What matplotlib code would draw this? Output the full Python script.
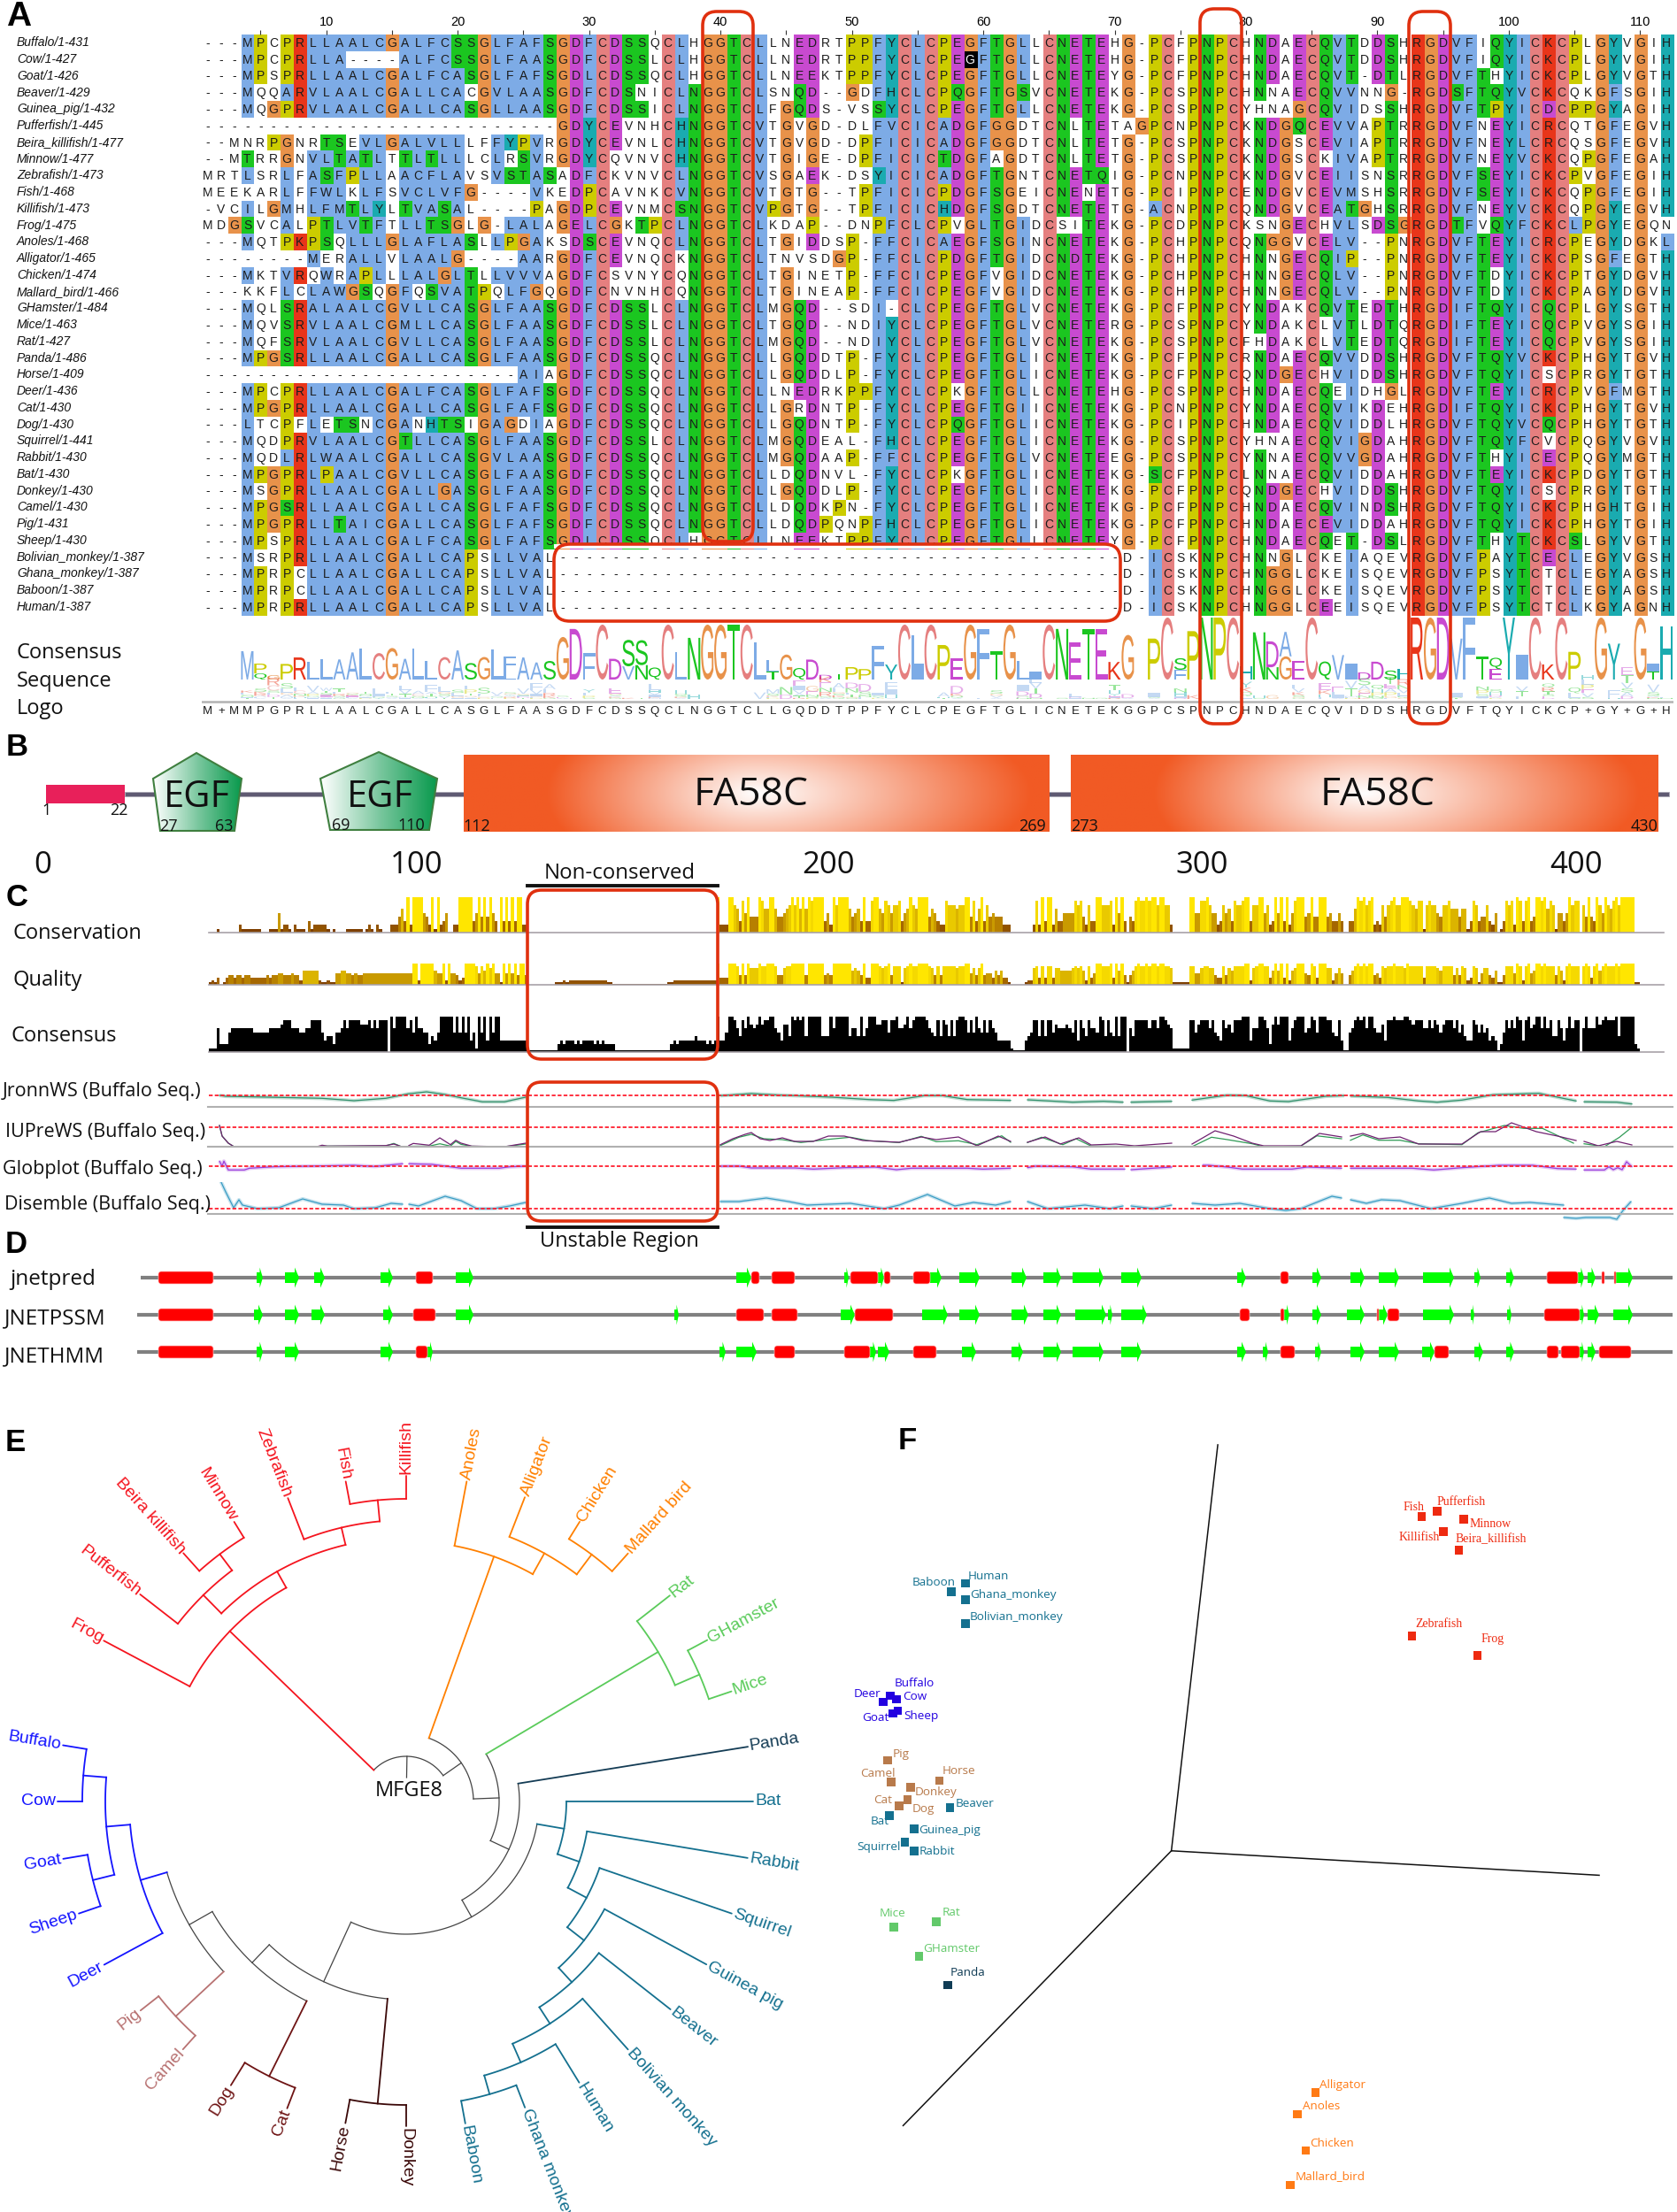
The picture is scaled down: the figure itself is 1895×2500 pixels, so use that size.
import numpy as np
import matplotlib
matplotlib.use("Agg")
import matplotlib.pyplot as plt
from matplotlib.colors import LinearSegmentedColormap, to_rgb
from matplotlib.patches import FancyBboxPatch, Polygon, Rectangle, PathPatch
from matplotlib.textpath import TextPath
from matplotlib.font_manager import FontProperties
from matplotlib.transforms import Affine2D

# ---------------------------------------------------------------- data: panel A
species = ["Buffalo/1-431","Cow/1-427","Goat/1-426","Beaver/1-429","Guinea_pig/1-432","Pufferfish/1-445",
 "Beira_killifish/1-477","Minnow/1-477","Zebrafish/1-473","Fish/1-468","Killifish/1-473","Frog/1-475",
 "Anoles/1-468","Alligator/1-465","Chicken/1-474","Mallard_bird/1-466","GHamster/1-484","Mice/1-463",
 "Rat/1-427","Panda/1-486","Horse/1-409","Deer/1-436","Cat/1-430","Dog/1-430","Squirrel/1-441",
 "Rabbit/1-430","Bat/1-430","Donkey/1-430","Camel/1-430","Pig/1-431","Sheep/1-430",
 "Bolivian_monkey/1-387","Ghana_monkey/1-387","Baboon/1-387","Human/1-387"]
seq_left = [
"---MPCPRLLAALCGALFCSSGLFAFSGDFCDSSQCLHGGTCLLNEDRT",
"---MPCPRLLA----ALFCSSGLFAASGDFCDSSLCLHGGTCLLNEDRT",
"---MPSPRLLAALCGALFCASGLFAFSGDLCDSSQCLHGGTCLLNEEKT",
"---MQQARVLAALCGALLCACGVLAASGDFCDSNICLNGGTCLSNQD--",
"---MQGPRVLAALCGALLCASGLLAASGDFCDSSICLNGGTCLFGQDS-",
"---------------------------GDYCEVNHCHNGGTCVTGVGD-",
"--MNRPGNRTSEVLGALVLLLFFYPVRGDYCEVNLCHNGGTCVTGVGD-",
"--MTRRGNVLTATLTTLTLLLCLRSVRGDYCQVNVCHNGGTCVTGIGE-",
"MRTLSRLFASFPLLAACFLAVSVSTASADFCKVNVCLNGGTCVSGAEK-",
"MEEKARLFFWLKLFSVCLVFG----VKEDPCAVNKCVNGGTCVTGTG--",
"-VCILGMHLFMTLYLTVASAL----PAGDPCEVNMCSNGGTCVPGTG--",
"MDGSVCALPTLVTFTLLTSGLG-LALAGELCGKTPCLNGGTCLKDAP--",
"---MQTPKPSQLLLGLAFLASLLPGAKSDSCEVNQCLNGGTCLTGIDDS",
"--------MERALLVLAALG----AARGDFCEVNQCKNGGTCLTNVSDG",
"---MKTVRQWRAPLLLALGLTLLVVVAGDFCSVNYCQNGGTCLTGINET",
"---KKFLCLAWGSQGFQSVATPQLFGQGDFCNVNHCQNGGTCLTGINEA",
"---MQLSRALAALCGVLLCASGLFAASGDFCDSSLCLNGGTCLMGQD--",
"---MQVSRVLAALCGMLLCASGLFAASGDFCDSSLCLNGGTCLTGQD--",
"---MQFSRVLAALCGVLLCASGLFAASGDFCDSSLCLNGGTCLMGQD--",
"---MPGSRLLAALCGALLCASGLFAASGDFCDSSQCLNGGTCLLGQDDT",
"------------------------AIAGDFCDSSQCLNGGTCLLGQDDL",
"---MPCPRLLAALCGALFCASGLFAFSGDFCDSSQCLNGGTCLLNEDRK",
"---MPGPRLLAALCGALLCASGLFAFSGDFCDSSQCLNGGTCLLGRDNT",
"---LTCPFLETSNCGANHTSIGAGDIAGDFCDSSQCLNGGTCLLGQDNT",
"---MQDPRVLAALCGTLLCASGLFAASGDFCDSSLCLNGGTCLMGQDEA",
"---MQDLRLWAALCGALLCASGVLAASGDFCDSSQCLNGGTCLMGQDAA",
"---MPGPRLPAALCGVLLCASGLFAASGDFCDSSQCLNGGTCLLDQDNV",
"---MSGPRLLAALCGALLGASGLFAASGDFCDSSQCLNGGTCLLGQDDL",
"---MPGSRLLAALCGALLCASGLFAFSGDFCDSSQCLNGGTCLLDQDKP",
"---MPGPRLLTAICGALLCASGLFAFSGDFCDSSQCLNGGTCLLDQDPQ",
"---MPSPRLLAALCGALFCASGLFAFSGDLCDSSQCLHGGTCLLNEEKT",
"---MSRPRLLAALCGALLCAPSLLVAL----------------------",
"---MPRPCLLAALCGALLCAPSLLVAL----------------------",
"---MPRPCLLAALCGALLCAPSLLVAL----------------------",
"---MPRPRLLAALCGALLCAPSLLVAL----------------------"]
seq_right = [
"PPFYCLCPEGFTGLLCNETEHG-PCFPNPCHNDAECQVTDDSHRGDVFIQYICKCPLGYVGIH",
"PPFYCLCPEGFTGLLCNETEHG-PCFPNPCHNDAECQVTDDSHRGDVFIQYICKCPLGYVGIH",
"PPFYCLCPEGFTGLLCNETEYG-PCFPNPCHNDAECQVT-DTLRGDVFTHYICKCPLGYVGTH",
"GDFHCLCPQGFTGSVCNETEKG-PCSPNPCHNNAECQVVNNG-RGDSFTQYVCKCQKGFSGIH",
"VSSYCLCPEGFTGLLCNETEKG-PCSPNPCYHNAGCQVIDSSHRGDVFTPYICDCPPGYAGIH",
"DLFVCICADGFGGDTCNLTETAGPCNPNPCKNDGQCEVVAPTRRGDVFNEYICRCQTGFEGVH",
"DPFICICADGFGGDTCNLTETG-PCSPNPCKNDGSCEVIAPTRRGDVFNEYLCRCQSGFEGVH",
"DPFICICTDGFAGDTCNLTETG-PCSPNPCKNDGSCKIVAPTRRGDVFNEYVCKCQPGFEGAH",
"DSYICICADGFTGNTCNETQIG-PCNPNPCKNDGVCEIISNSRRGDVFSEYICKCPVGFEGIH",
"TPFICICPDGFSGEICNENETG-PCIPNPCENDGVCEVMSHSRRGDVFSEYICKCQPGFEGIH",
"TPFICICHDGFSGDTCNETETG-ACNPNPCQNDGVCEATGHSRRGDVFNEYVCKCQPGYEGVH",
"DNPFCLCPVGLTGIDCSITEKG-PCDPNPCKSNGECHVLSDSGRGDTFVQYFCKCLPGYEGQN",
"P-FFCICAEGFSGINCNETEKG-PCHPNPCQNGGVCELV--PNRGDVFTEYICRCPEGYDGKL",
"P-FFCLCPDGFTGIDCNDTEKG-PCHPNPCHNNGECQIP--PNRGDVFTEYICKCPSGFEGTH",
"P-FFCICPEGFVGIDCNETEKG-PCHPNPCHNNGECQLV--PNRGDVFTDYICKCPTGYDGVH",
"P-FFCICPEGFVGIDCNETEKG-PCHPNPCHNNGECQLV--PNRGDVFTDYICKCPAGYDGVH",
"SDI-CLCPEGFTGLVCNETEKG-PCFPNPCYNDAKCQVTEDTHRGDIFTQYICQCPLGYSGTH",
"NDIYCLCPEGFTGLVCNETERG-PCSPNPCYNDAKCLVTLDTQRGDIFTEYICQCPVGYSGIH",
"NDIYCLCPEGFTGLVCNETEKG-PCSPNPCFHDAKCLVTEDTQRGDIFTEYICQCPVGYSGIH",
"P-FYCLCPEGFTGLICNETEKG-PCFPNPCRNDAECQVVDDSHRGDVFTQYVCKCPHGYTGVH",
"P-FYCLCPEGFTGLICNETEKG-PCFPNPCQNDGECHVIDDSHRGDVFTQYICSCPRGYTGTH",
"PPFYCLCPKGFTGLLCNETEHG-PCSPNPCHNDAECQEIDHGLRGDVFTEYICRCPVGFMGTH",
"P-FYCLCPEGFTGIICNETEKG-PCNPNPCYNDAECQVIKDEHRGDIFTQYICKCPHGYTGVH",
"P-FYCLCPQGFTGLICNETEKG-PCIPNPCHNDAECQVIDDLHRGDVFTQYVCQCPHGYTGTH",
"L-FHCLCPEGFTGLICNETEKG-PCSPNPCYHNAECQVIGDAHRGDVFTQYFCVCPQGYVGVH",
"P-FFCLCPEGFTGLVCNETEEG-PCSPNPCYNNAECQVVGDAHRGDVFTHYICECPQGYMGTH",
"L-FYCLCPKGFTGLICNETEKG-SCFPNPCLNNAECQVIDDAHRGDVFTEYICKCPDGYTGTH",
"P-FYCLCPEGFTGLICNETEKG-PCFPNPCQNDGECHVIDDSHRGDVFTQYICSCPRGYTGTH",
"N-FYCLCPEGFTGLICNETEKG-PCFPNPCHNDAECQVINDSHRGDVFTQYICKCPHGHTGIH",
"NPFHCLCPEGFTGLICNETEKG-PCFPNPCHNDAECEVIDDAHRGDVFTQYICKCPHGYTGIH",
"PPFYCLCPEGFTGLLCNETEYG-PCFPNPCHNDAECQET-DSLRGDVFTHYTCKCSLGYVGTH",
"---------------------D-ICSKNPCHNNGLCKEIAQEVRGDVFPAYTCECLEGYVGSH",
"---------------------D-ICSKNPCHNGGLCKEISQEVRGDVFPSYTCTCLEGYAGSH",
"---------------------D-ICSKNPCHNGGLCKEISQEVRGDVFPSYTCTCLEGYAGSH",
"---------------------D-ICSKNPCHNGGLCEEISQEVRGDVFPSYTCTCLKGYAGNH"]
consensus = "M+MMPGPRLLAALCGALLCASGLFAASGDFCDSSQCLNGGTCLLGQDDTPPFYCLCPEGFTGLICNETEKGGPCSPNPCHNDAECQVIDDSHRGDVFTQYICKCP+GY+G+H"

# ---------------------------------------------------------------- data: panel B
ruler_labels = ["0", "100", "200", "300", "400"]

# ---------------------------------------------------------------- data: panel C (height digits per alignment column)
cons_left = "00010000000"+"21111111"+"000"+"1115"+"1221"+"0"+"21110"+"31222221"+"010000"+"111111"+"0121"+"02100"+"0"+"2224"+"63"+"9"+"2"+"9999"+"542"+"9"+"1"+"9"+"235"+"0"+"022"+"99999"+"35"+"9"+"4"+"9"+"4"+"9"+"53"+"0"+"9"+"3"+"9"+"3"+"9"+"3"+"99"+"2"
cons_gap = "0"*69
cons_a = "9 2 2 2 9 9 7 6 3 8 5 9 4 4 4 9 8 6 6 9 9 6 4 4 5 6 7 9 7 9 6 9 6 9 8 9 9 9 9 3 5 2 9 7 9 9 9 9 6 4 5 6 3 9 3 3 8 9 9 6 5 8 7 5 7 7 8 3 5 6 9 7 6 9 9 9 9 4 6 5 3 2 2 8 7 7 7 6 7 7 9 9 4 8 3 6 9 3 7 4 5 4 4 4 2 2 2"
cons_b = "00000000"
cons_c = "2 8 2 9 3 9 9 2 6 3 3 5 5 5 5 8 7 8 4 2 7 3 3 9 9 7 7 7 8 2 9 5 9 3 0 4 3 8 9 8 8 9 8 9 9 7 9 9 7 7 2"
cons_d = "000000"
cons_e = "9 9 5 5 8 8 9 7 5 5 2 3 7 5 6 3 8 7 7 8 9 9 3 7 7 9 9 5 7 2 3 9 5 9 3 9 2 5 8 9 9 9 4 5 9 4 4 9 9 9 4 5 3 3 5 3"
cons_f = "00"
cons_g = "3 3 6 9 8 9 7 8 9 2 3 2 7 4 7 8 9 7 7 9 9 9 8 7 6 8 8 1 7 8 7 7 5 4 7 7 8 6 6 6 4 6 6 1 3 8 7 3 4 4 7 3 2 5"
cons_h = "0"
cons_i = "1 3 8 7 8 2 9 8 3 8 9 3 4 9 9 8 9 6 8 7 1 5 5 3 5 9 7 8 8 0 7 4 9 4 3 9 7 5 9 7 6 8 9 7 9 9 9 9 9"
cons_j = "00"

qual_left = "1213013443443443333334344554445442"+"6666662"+"11211"+"556655"+"4544"+"555555555555555555"+"9 9 2 9 9 9 9 9 6 5 5 9 2 9 5 5 4 2 3 9 9 9 9 8 5 8 6 9 7 9 5 5 1 9 5 9 5 9 4 9 9 4"
qual_gap = "0000000000"+"111212222222222222211"+"...................."+"112222222222222222"
qual_a = "9 3 3 3 9 9 9 8 4 9 4 9 7 7 7 9 8 8 9 9 9 8 4 4 7 8 8 9 9 9 9 9 4 9 9 9 9 9 9 4 5 4 9 9 9 9 9 9 9 6 7 6 4 9 3 3 9 9 9 8 7 8 9 4 8 8 8 1 7 8 9 8 8 9 9 9 9 8 7 4 8 4 8 8 8 8 8 7 8 8 9 9 5 7 4 7 9 4 5 5 3 6 4 6 3 3 1"
qual_b = "00000122"
qual_c = "7 8 3 8 3 8 8 3 7 7 6 6 6 6 7 8 7 8 6 2 8 3 5 9 9 8 8 8 9 3 9 6 9 4 1 4 6 8 9 8 8 9 8 9 9 8 9 9 8 8 7"
qual_d = "111111"
qual_e = "8 8 5 5 7 8 8 7 7 4 3 3 8 4 7 6 8 8 8 8 9 9 2 7 8 9 9 8 8 3 6 9 6 9 3 9 2 6 7 9 9 9 5 4 9 8 3 9 9 9 7 7 2 5 7 5"
qual_f = "00"
qual_g = "4 6 8 9 8 9 8 9 9 4 5 3 8 7 8 8 9 8 8 8 7 9 8 8 8 8 8 3 8 8 8 8 7 6 8 8 8 8 4 7 4 8 7 2 3 8 7 1 5 7 7 4 3 6"
qual_h = "1"
qual_i = "1 4 8 8 8 5 9 8 2 8 9 5 6 9 9 8 9 8 8 8 4 8 6 2 8 9 8 8 8 0 8 9 8 3 8 9 6 8 9 8 8 8 9 8 9 9 9 9 9"
qual_j = "11"

conf_left = "111"+"6"+"222"+"5"+"66666666"+"555555"+"6666"+"7"+"8"+"88"+"666"+"55"+"66"+"8888"+"5"+"3"+"44"+"2"+"55"+"6"+"8"+"6"+"8888"+"7"+"77"+"8"+"6"+"8"+"6"+"88"+"8"+"0"+"9"+"6"+"9999"+"6"+"8"+"5"+"9"+"6"+"6"+"5"+"5"+"2"+"4"+"3"+"5"+"99999"+"5"+"9"+"5"+"9"+"5"+"9"+"3"+"5"+"1"+"9"+"5"+"9"+"3"+"9"+"5"+"99"+"3"
conf_gap = "..........."+"232333232333323232222"+"...................."+"23233333343332323"
conf_a = "9 3 3 5 9 9 8 6 4 8 6 9 7 6 7 9 7 8 8 9 9 6 5 3 7 7 4 9 8 9 8 9 4 9 9 9 9 9 4 4 4 9 6 9 9 9 9 9 4 6 6 4 9 4 6 9 9 9 7 7 8 8 5 8 8 9 6 6 7 9 6 8 9 9 9 9 8 6 5 4 8 4 8 7 4 8 4 8 9 9 8 5 8 5 9 6 5 8 5 8 6 5 3 3 3 3 3"
conf_b = "1....345"
conf_c = "8 8 4 8 4 8 8 5 7 6 6 6 7 6 5 8 3 8 6 4 8 6 6 5 9 8 4 8 5 4 9 4 9 9 0 6 4 8 8 8 8 8 6 8 8 6 9 9 8 7 6"
conf_d = "111111"
conf_e = "8 8 5 7 8 8 8 6 8 5 4 3 8 6 7 5 8 8 8 9 9 9 3 6 6 9 9 8 6 2 7 9 7 9 9 9 3 6 8 9 9 9 5 6 9 8 5 9 9 9 8 8 5 4 8 3"
conf_f = ".."
conf_g = "5 6 8 9 8 9 6 9 9 6 5 5 7 3 8 8 9 8 8 8 9 9 8 7 8 8 8 6 6 8 6 8 7 5 7 8 8 8 6 8 5 7 4 3 3 8 7 5 7 5 6 3 4 3"
conf_h = "."
conf_i = "2 5 8 6 8 6 9 8 3 8 9 6 7 9 9 6 9 6 8 4 4 8 6 3 6 9 6 8 8 0 6 9 6 6 6 9 7 8 9 8 8 8 9 4 9 9 9 9 9"
conf_j = "21"

jronn_x = [248,255,303,364,400,436,461,482,503,521,545,570,594,None,814,849,873,898,940,982,1010,1044,1065,1093,1142,None,1161,1212,1247,1269,None,1278,1324,None,1347,1387,1408,1435,1456,1498,1519,None,1526,1568,1603,1624,1652,1687,1739,1781,None,1790,1827,1844]
jronn_h = [13,12,11,9.7,7,9.7,14.7,17,14,10.3,5.7,5.7,11,None,12.7,15,13.7,12.7,11,8.3,7.3,12.7,12.7,8.3,7.3,None,8,5.3,6.3,5.3,None,5.3,6.3,None,7.7,13.3,12.7,6.7,6,12,12.7,None,12.3,10.7,6.7,5.3,7.7,13.7,15.3,6.7,None,5.7,5.3,3.3]
iup1_x = [248,251,258,264,358,364,370,400,436,445,452,None,462,467,485,497,509,515,521,533,570,594,None,814,828,842,849,859,870,884,898,919,936,954,975,996,1016,1041,1058,1083,1104,1128,1142,None,1161,1181,1198,1219,1233,1261,1282,1324,None,1347,1373,1394,1415,1428,1470,1491,1516,None,1526,1540,1558,1582,1603,1652,1673,1690,1708,1736,1760,1781,None,1790,1806,1827,1844]
iup1_h = [24,12,4,.3,0,1.7,.7,1,1.3,3,.7,None,1.3,3.7,1.7,10,2.3,7.3,4,.7,0,4,None,2.3,9,14,16,9,7,10,6,6,12,12,7,6,5,11,8,11,1,12,6,None,5,11,3,10,2,3,1,4,None,3,18,12,4,1,1,15,11,None,12,15,9,11,3,3,17,17,27,17,12,7,None,6,1,6,2]
iup2_x = [248,251,258,264,358,364,400,436,445,452,None,462,485,497,509,515,521,533,570,594,None,814,835,849,863,884,905,936,961,982,1016,1041,1058,1083,1104,1132,1142,None,1161,1177,1201,1216,1233,1324,None,1347,1369,1387,1415,1428,1470,1488,1516,None,1526,1540,1558,1582,1603,1652,1670,1700,1722,1743,1778,None,1790,1813,1830,1844]
iup2_h = [24,12,4,.3,0,.7,.7,1,3.7,.7,None,.5,.7,3.3,.7,6,2.6,.5,0,3,None,1.3,10.7,14,9,8,4.7,8.3,10.7,6.7,4.7,11.7,5.7,6.7,2.3,12.3,5,None,4.7,10.7,2.3,9,.7,0,None,0,10.7,8,3.3,0,.7,12.3,9,None,7.3,13.3,7.3,7.3,3.3,2.3,15.7,24,20.7,20.7,4,None,3.3,0,10.7,22]
glob_x = [248,251,253,258,276,282,309,400,424,455,None,462,488,506,521,564,576,594,None,814,835,849,898,919,954,989,1013,1030,1093,1111,1142,None,1161,1170,1212,1233,1271,None,1278,1303,1324,None,1359,1366,1387,1404,1460,1477,1498,1516,None,1526,1596,1620,1652,1694,1732,1760,1781,None,1790,1813,1818,1823,1828,1833,1838,1844]
glob_h = [5.7,0,5.7,-4.3,-4.3,-2.3,-.7,1,-.3,2.7,None,2.7,2,-.3,-2.3,-2.3,-.7,0,None,0,0,-2,-2,-3.3,-1.7,-1,-4,-2.3,-2.3,-3.3,-2.3,None,-1.7,0,-.7,-3.3,-3.3,None,-4,-2.3,-1,None,1,1,-1,-3.3,-3.3,-1,-1.7,-2.3,None,-2.3,-2.3,-4.3,-1.7,1,1,-2.7,-3.3,None,-4.3,-4.3,-.7,-4,-1.7,-4,5,-.7]
dis_x = [248,255,264,270,274,291,315,342,364,388,400,424,442,455,None,462,473,503,521,539,558,576,594,None,814,835,866,891,912,961,999,1016,1048,1079,1100,1125,1142,None,1161,1184,1226,1254,1269,None,1278,1303,1324,None,1347,1373,1401,1435,1453,1470,1505,1516,None,1526,1544,1561,1582,1617,1652,1683,1708,1729,1767,None,1767,1781,1792,1819,1827,1834,1843]
dis_h = [40,25,7,16,10,6,7,17,11,10,6,7,12,11,None,11,9,20,15,6,6,9,13,None,14,14,18,14,10,12,6,10,22,9,13,10,14,None,14,6,10,6,9,None,9,6,10,None,12,10,12,6,4,6,20,18,None,16,12,16,15,6,12,18,12,13,10,None,-4,-5,-4,-4,-6,4,14]

# ---------------------------------------------------------------- data: panel D (start, end along the alignment track)
jnet_names = ["jnetpred", "JNETPSSM", "JNETHMM"]
jnet_helix = [
 [(179,241),(470,489),(849,858),(872,898),(961,992),(999,1006),(1032,1051),(1447,1456),(1748,1783),(1810,1813),(1824,1826)],
 [(179,241),(467,492),(832,863),(872,901),(966,1009),(1401,1412),(1447,1451),(1556,1558),(1568,1581),(1745,1785)],
 [(179,241),(470,483),(875,898),(954,983),(1032,1058),(1447,1463),(1621,1637),(1748,1761),(1764,1785),(1807,1843)]]
jnet_sheet = [
 [(290,297),(322,338),(355,367),(430,444),(515,535),(832,849),(954,959),(992,999),(1051,1064),(1084,1107),(1143,1160),(1179,1199),(1212,1247),(1267,1290),(1398,1408),(1483,1493),(1526,1542),(1558,1581),(1608,1643),(1666,1673),(1702,1711),(1783,1790),(1794,1803),(1826,1845)],
 [(287,297),(322,338),(352,367),(433,444),(515,535),(762,767),(950,966),(1042,1071),(1084,1107),(1143,1162),(1179,1199),(1215,1250),(1252,1257),(1267,1296),(1451,1457),(1483,1493),(1522,1542),(1558,1568),(1608,1643),(1662,1666),(1703,1708),(1785,1790),(1794,1807),(1823,1845)],
 [(290,297),(322,338),(430,444),(483,489),(813,820),(832,855),(983,990),(992,1005),(1087,1103),(1143,1156),(1179,1199),(1212,1247),(1267,1290),(1398,1408),(1427,1433),(1486,1493),(1526,1542),(1558,1581),(1607,1621),(1666,1676),(1702,1711),(1785,1790),(1794,1803)]]

# ---------------------------------------------------------------- data: panel F
pca_names = ["Fish","Pufferfish","Minnow","Killifish","Beira_killifish","Zebrafish","Frog","Baboon","Human","Ghana_monkey",
 "Bolivian_monkey","Buffalo","Cow","Deer","Goat","Sheep","Pig","Camel","Horse","Donkey","Cat","Dog","Beaver","Bat",
 "Guinea_pig","Squirrel","Rabbit","Mice","Rat","GHamster","Panda","Alligator","Anoles","Chicken","Mallard_bird"]
pca_group = ["r"]*7 + ["t"]*4 + ["b"]*5 + ["w"]*6 + ["t","t","t","t","t"] + ["g","g","g"] + ["n"] + ["o"]*4
pca_x = [1089,1118,1168,1130,1159,1071,1194,207,234,234,234,93,105,80,98,107,88,95,185,131,125,109,205,91,138,120,138,100,179,147,201,890,856,872,843]
pca_y = [228,218,233,257,292,457,495,372,356,388,434,572,579,584,606,601,696,738,735,748,772,784,787,802,828,853,870,1017,1006,1073,1128,1335,1376,1446,1512]
pca_lx = [1054,1118,1179,1047,1153,1078,1201,134,238,242,242,100,116,24,40,118,98,36,190,139,62,134,215,56,147,30,147,73,190,155,205,898,866,880,853]
pca_ly = [210,200,242,268,272,434,464,354,342,379,421,549,574,569,615,611,685,721,716,757,772,790,779,813,831,862,872,991,989,1058,1104,1320,1361,1433,1496]
pca_origin = (620, 870)
pca_axes_ends = [(707,90),(1422,917),(117,1398)]

# ---------------------------------------------------------------- data: panel E (radius, angle in degrees)
RED, ORG, GRN, TEAL, BLUE, ROSE, DRED, DARK, NAVY, GREY = "#F5141E","#FF8000","#5ACB5A","#14708F","#1414FF","#B87272","#6E1414","#3A0808","#143C55","#444444"
def L(name, th, r): return ("leaf", name, th, r)
def N(th, r, color, kids): return ("node", th, r, color, kids)
clade_red = N(136,277,RED,[L("Frog",152,387),
    N(119.3,298,RED,[
      N(134.5,327,RED,[L("Pufferfish",142.1,381),N(127,350,RED,[L("Beira killifish",131.9,377),L("Minnow",121.6,371)])]),
      N(103.3,318,RED,[L("Zebrafish",111.3,368),N(95.4,342,RED,[L("Fish",100.7,368),L("Killifish",90,368)])])])])
clade_orange = N(70.3,294,ORG,[L("Anoles",79.3,368),N(60.9,321,ORG,[L("Alligator",68.7,369),N(53.1,349,ORG,[L("Chicken",58.2,372),L("Mallard bird",48.2,376)])])])
clade_green = N(30.7,331,GRN,[L("Rat",38,378),N(23.4,361,GRN,[L("GHamster",28.2,386),L("Mice",18.7,388)])])
clade_teal = N(-9.8,181,TEAL,[L("Bat",0,392),N(-19.2,207,TEAL,[L("Rabbit",-9.4,391),N(-28.1,231,TEAL,[L("Squirrel",-19,389),
    N(-38,255,TEAL,[L("Guinea pig",-28.5,386),N(-47.5,277,TEAL,[L("Beaver",-38.2,380),N(-57.1,299,TEAL,[L("Bolivian monkey",-48.2,376),
    N(-66.3,322,TEAL,[L("Human",-58.4,373),N(-74.1,344,TEAL,[L("Ghana monkey",-68.8,371),L("Baboon",-79.6,370)])])])])])])])])
clade_blue = N(-163.5,313,BLUE,[L("Deer",-151.6,388),N(-175.2,340,BLUE,[
    N(-184.6,366,BLUE,[L("Buffalo",-189.3,393),L("Cow",-180,394)]),
    N(-165.9,365,BLUE,[L("Goat",-170.5,393),L("Sheep",-161.1,391)])])])
clade_rose = N(-137,356,ROSE,[L("Pig",-141.8,382),L("Camel",-132,377)])
clade_dc = N(-116.5,347,DRED,[L("Dog",-121.7,377),L("Cat",-111.2,372)])
clade_hd = N(-95.4,343,DARK,[L("Horse",-100.7,370),L("Donkey",-90,367)])
n7 = N(-150.4,282,GREY,[clade_blue,clade_rose])
n6 = N(-133.7,252,GREY,[clade_dc,n7])
n5 = N(-114.6,224,GREY,[clade_hd,n6])
n4 = N(-60.5,150,GREY,[clade_teal,n5])
n3 = N(-25,128,GREY,[L("Panda",9.1,391),n4])
n2 = N(2.2,105,GREY,[clade_green,n3])
n1 = N(35,76,GREY,[clade_orange,n2])
tree_root = N(89,51,GREY,[clade_red,n1])

# ---------------------------------------------------------------- helpers
W, H = 1895, 2500
SANS, SERIF, OPEN = "Liberation Sans", "Liberation Serif", "Open Sans"
fig = plt.figure(figsize=(W/100, H/100), dpi=100, facecolor="white")

def panel(l, t, r, b, **kw):
    return fig.add_axes([l/W, 1-b/H, (r-l)/W, (b-t)/H], **kw)

root = panel(0, 0, W, H); root.set_xlim(0, W); root.set_ylim(H, 0); root.axis("off")
top = panel(0, 0, W, H); top.set_xlim(0, W); top.set_ylim(H, 0); top.axis("off"); top.set_zorder(30); top.patch.set_alpha(0)

def T(x, y, s, size=16, family=OPEN, **kw):
    kw.setdefault("va", "center"); kw.setdefault("ha", "left"); kw.setdefault("color", "#111111")
    if family == OPEN: y = y+3
    root.text(x, y, s, fontsize=size, family=family, **kw)

for s, x, y in [("A",7,19),("B",7,845),("C",7,1015),("D",6,1407),("E",6,1630),("F",1015,1629)]:
    T(x, y, s, size=28 if s == "A" else 25, family=SANS, fontweight="bold", color="black")

def redbox(x0, y0, x1, y1, r=14):
    top.add_patch(FancyBboxPatch((x0, y0), x1-x0, y1-y0, boxstyle=f"round,pad=0,rounding_size={r}",
                                 fc="none", ec="#E0300F", lw=2.6, zorder=5))

# ---------------------------------------------------------------- panel A
seqs = [a+b for a, b in zip(seq_left, seq_right)]
nrow, ncol = len(seqs), len(seqs[0])
COL = {"blue":"#7DABE6","red":"#E8351A","green":"#1BC620","pink":"#E57F7F","mag":"#C84AD0",
       "orange":"#E8924A","yellow":"#CCCC00","cyan":"#1AABB0","none":"#FFFFFF"}

def residue_colour(ch, col):
    def pct(s): return 100*sum(c in s for c in col)/len(col)
    hyd = pct("WLVIMAFCHP") > 60 or pct("WLVIMAFCYHP") > 80
    kr = pct("KR") > 60
    if ch == "-": return "none"
    if ch == "G": return "orange"
    if ch == "P": return "yellow"
    if ch == "C":
        if pct("C") > 85: return "pink"
        return "blue" if hyd else "none"
    if ch in "AILMFWV": return "blue" if hyd else "none"
    if ch in "HY": return "cyan" if hyd else "none"
    if ch in "ST": return "green" if (hyd or pct("ST") > 50) else "none"
    if ch == "N": return "green" if (pct("N") > 50 or pct("D") > 85) else "none"
    if ch == "Q": return "green" if (kr or pct("QE") > 50 or pct("Q") > 85) else "none"
    if ch == "E": return "mag" if (kr or pct("QE") > 50 or pct("ED") > 50) else "none"
    if ch == "D": return "mag" if (kr or pct("ED") > 50) else "none"
    if ch in "KR": return "red" if (kr or pct("K") > 85 or pct("R") > 85 or pct("Q") > 85) else "none"
    return "none"

columns = ["".join(s[j] for s in seqs) for j in range(ncol)]
rgb = np.ones((nrow, ncol, 3))
for i in range(nrow):
    for j in range(ncol):
        rgb[i, j] = to_rgb(COL[residue_colour(seqs[i][j], columns[j])])
rgb[1, 58] = (0, 0, 0)

ax = panel(227.5, 39, 1890.6, 695.6)
ax.imshow(rgb, extent=(0.5, ncol+0.5, nrow-0.5, -0.5), aspect="auto", interpolation="nearest")
ax.set_xlim(0.5, ncol+0.5); ax.set_ylim(nrow-0.5, -0.5)
for sp in ax.spines.values(): sp.set_visible(False)
ax.xaxis.tick_top(); ax.set_yticks([])
ax.set_xticks(np.arange(10, 111, 10)); ax.set_xticks(np.arange(5, 111, 10), minor=True)
ax.tick_params(axis="x", which="both", length=3.5, width=.8, color="#333333", pad=1.5, labelsize=10.5)
for lab in ax.get_xticklabels(): lab.set_family(SANS)
for i, s in enumerate(seqs):
    for j, ch in enumerate(s):
        ax.text(j+1, i+.03, ch, ha="center", va="center", fontsize=10, family=SANS,
                color="white" if (i == 1 and j == 58) else "#1c1c1c")
for i, name in enumerate(species):
    T(19, 48.3+18.75*i, name, size=10, family=SANS, style="italic", color="#111111")

for i, s in enumerate(["Consensus", "Sequence", "Logo"]):
    T(19, 735+31.5*i, s, size=17)

# sequence logo, computed from the alignment
logo_col = {}
for cs, c in [("AILMFWV","blue"),("C","pink"),("G","orange"),("DE","mag"),("NSTQ","green"),("RK","red"),("P","yellow"),("HY","cyan")]:
    for k in cs: logo_col[k] = COL[c]
axl = panel(227.5, 695, 1890.6, 815); axl.set_xlim(0.5, ncol+.5); axl.set_ylim(815, 695); axl.axis("off")
fp = FontProperties(family=SANS)
glyph = {}
def letter(ch, xc, bottom, h, color, alpha=1.0):
    if ch not in glyph: glyph[ch] = TextPath((0, 0), ch, size=1, prop=fp)
    p = glyph[ch]; e = p.get_extents()
    tr = Affine2D().translate(-e.x0, -e.y0).scale(.94/e.width, -h/e.height).translate(xc-.47, bottom)
    axl.add_patch(PathPatch(p.transformed(tr), fc=color, lw=0, alpha=alpha))
for j, col in enumerate(columns):
    axl.text(j+1, 804, consensus[j], ha="center", va="center", fontsize=9.5, family=SANS, color="#1c1c1c")
    letters = [c for c in col if c != "-"]
    gapfrac = 1-len(letters)/len(col)
    if gapfrac > .7: continue
    uniq = sorted(set(letters), key=lambda c: -letters.count(c))
    f = np.array([letters.count(c)/len(letters) for c in uniq])
    ic = (np.log2(20)+np.sum(f*np.log2(f)))*(1-gapfrac)
    y = 768.0
    big = [(c, v) for c, v in zip(uniq, f) if v >= .25]
    for c, v in reversed(big):
        h = 70*v*ic/4.32
        if h < 1: continue
        letter(c, j+1, y, h, logo_col[c]); y -= h
    small = [(c, v) for c, v in zip(uniq, f) if v < .25][:6]
    y = 790.0
    for c, v in reversed(small):
        h = 38*v
        letter(c, j+1, y, h, logo_col[c], alpha=.45); y -= h
axl.axhline(793, color="#B2B2B2", lw=1.8)

top.add_patch(Rectangle((626, 615), 640, 5, fc="white", ec="none", zorder=4))
redbox(794, 13, 851, 612, 16)
redbox(1356, 10, 1403, 818, 16)
redbox(1592, 13, 1639, 818, 16)
redbox(626, 615, 1266, 702, 18)

# ---------------------------------------------------------------- panel B
axb = panel(0, 840, W, 960)
axb.set_xlim(0, W); axb.set_ylim(960, 840); axb.axis("off")
axb.add_patch(Rectangle((141, 894.5), 1745, 5, fc="#5F5A72", ec="#A9A6B3", lw=.6, zorder=1))
axb.add_patch(Rectangle((51.5, 887), 89.5, 20.5, fc="#E8205A", ec="none", zorder=2))
green_map = LinearSegmentedColormap.from_list("eg", ["#FFFFFF", "#7CC8A0", "#0A9A4E"])
for (x0, xa, xt, xb, x1, ty, sy, by) in [(173, 181, 222, 265, 273, 851, 880, 939), (362, 373, 428, 485, 494, 850, 880, 938)]:
    poly = Polygon([(x0, sy), (xt, ty), (x1, sy), (xb, by), (xa, by)], closed=True, fc="none", ec="#3F7F3F", lw=1.5, zorder=4)
    axb.add_patch(poly)
    im = axb.imshow(np.linspace(0, 1, 64)[None, :], extent=(x0, x1, by, ty), cmap=green_map, aspect="auto", zorder=3)
    fillp = Polygon(poly.get_xy(), closed=True, transform=axb.transData)
    im.set_clip_path(fillp)
yy, xx = np.mgrid[0:1:60j, 0:1:300j]
dist = np.sqrt((np.where(xx < .5, (xx-.5)/.36, (xx-.5)/.47))**2 + ((yy-.5)/1.25)**2)
tt = np.clip(dist, 0, 1)[..., None]
fa_img = np.array(to_rgb("#F15A24"))*tt + 1.0*(1-tt)
for x0, x1, xc in [(524, 1186, 849), (1210, 1874, 1557)]:
    axb.imshow(fa_img, extent=(x0, x1, 940, 853), aspect="auto", zorder=3)
    T(xc, 896, "FA58C", size=32, ha="center", zorder=5)
axb.set_xlim(0, W); axb.set_ylim(960, 840)
root.set_zorder(5); root.patch.set_alpha(0)
T(222, 898, "EGF", size=30, ha="center"); T(429, 898, "EGF", size=30, ha="center")
for x, y, s in [(53,915,"1"),(134,915,"22"),(190,933,"27"),(253,933,"63"),(385,932,"69"),(465,932,"110"),(539,933,"112"),(1167,933,"269"),(1226,933,"273"),(1858,933,"430")]:
    T(x, y-2, s, size=13, ha="center")
for x, s in zip([48, 471, 936, 1358, 1781], ruler_labels):
    T(x, 975, s, size=25, ha="center")

# ---------------------------------------------------------------- panel C
def digits(*parts_lens):
    out = []
    for part, n in parts_lens:
        d = "".join(part.split())
        out.append(d.ljust(n, d[-1])[:n])
    return "".join(out)
lens = [116, 69, 107, 8, 51, 6, 56, 2, 54, 1, 49, 2]
def track(parts):
    s = digits(*zip(parts, lens))
    return np.array([float(c) if c.isdigit() else .4 for c in s])
conservation = track([cons_left,cons_gap,cons_a,cons_b,cons_c,cons_d,cons_e,cons_f,cons_g,cons_h,cons_i,cons_j])
quality = track([qual_left,qual_gap,qual_a,qual_b,qual_c,qual_d,qual_e,qual_f,qual_g,qual_h,qual_i,qual_j])
consensus_h = track([conf_left,conf_gap,conf_a,conf_b,conf_c,conf_d,conf_e,conf_f,conf_g,conf_h,conf_i,conf_j])
ncolumns = len(conservation)
brown = LinearSegmentedColormap.from_list("by", [(0, "#6B2C00"), (.35, "#A86A00"), (.7, "#E0BC00"), (.88, "#F4D800"), (1, "#FFE600")])
xcol = np.arange(ncolumns)
for vals, t, b, coloured in [(conservation,1014,1054,True),(quality,1089,1113,True),(consensus_h,1149,1189,False)]:
    a = panel(236, t, 1853, b); a.set_xlim(0, ncolumns); a.set_ylim(0, 9); a.axis("off")
    a.bar(xcol, vals, width=1.0, align="edge", color=brown(vals/9) if coloured else "black", lw=0)
    root.plot([236, 1880], [b, b], color="#A8A2A8", lw=1.2, zorder=1)
T(14, 1052, "Conservation", size=17); T(14, 1105, "Quality", size=17); T(13, 1168, "Consensus", size=17)
root.plot([596, 811], [1001, 1001], color="#111111", lw=2.8)
T(700, 984, "Non-conserved", size=17.3, ha="center")
redbox(596, 1006, 811, 1197, 16)

def dashed(y):
    root.plot([236, 1890], [y, y], color="#FF2030", lw=1.3, ls=(0, (2.4, 1.3)), zorder=3)
def dist_panel(base, ref, series):
    a = panel(0, ref-30, W, base+30); a.set_xlim(0, W); a.set_ylim(base+30, ref-30); a.axis("off")
    for xs, hs, c, halo in series:
        xs = np.array(xs, float); hs = np.array(hs, float)
        if halo: a.plot(xs, base-hs, color=c, lw=3, alpha=.28, solid_capstyle="butt")
        a.plot(xs, base-hs, color=c, lw=.9)
    a.patch.set_alpha(0)
dist_panel(1251, 1238, [(jronn_x, jronn_h, "#2F8F6A", True)])
dist_panel(1296, 1274, [(iup2_x, iup2_h, "#2F9A55", False), (iup1_x, iup1_h, "#702070", False)])
dist_panel(1318, 1318, [(glob_x, glob_h, "#9B40DC", True)])
dist_panel(1372, 1366, [(dis_x, dis_h, "#3A9DC4", True)])
for y in [1251, 1296, 1372]:
    root.plot([235, 1890], [y, y], color="#B0B0B0", lw=1.5, zorder=1)
for y in [1238, 1274, 1318, 1366]:
    dashed(y)
for y, x, s in [(1230,3,"JronnWS (Buffalo Seq.)"),(1276,6,"IUPreWS (Buffalo Seq.)"),(1318,3,"Globplot (Buffalo Seq.)"),(1359,5,"Disemble (Buffalo Seq.)")]:
    T(x, y, s, size=15.5)
redbox(596, 1223, 811, 1380, 16)
root.plot([596, 811], [1387, 1387], color="#111111", lw=2.8)
T(700, 1400, "Unstable Region", size=17, ha="center")

# ---------------------------------------------------------------- panel D
axd = panel(0, 1420, W, 1550); axd.set_xlim(0, W); axd.set_ylim(1550, 1420); axd.axis("off")
rows_y = [1444, 1486, 1528]
for y, start, name, hel, she in zip(rows_y, [159, 155, 155], jnet_names, jnet_helix, jnet_sheet):
    axd.plot([start, 1890], [y, y], color="#808080", lw=3, zorder=1, solid_capstyle="butt")
    for a0, a1 in she:
        head = min(5, (a1-a0)*.5)
        axd.add_patch(Polygon([(a0, y-6), (a1-head, y-6), (a1-head, y-11.5), (a1, y), (a1-head, y+11.5), (a1-head, y+6), (a0, y+6)],
                              closed=True, fc="#00FF00", ec="none", zorder=2))
    for a0, a1 in hel:
        rr = min(3, (a1-a0)/2)
        axd.add_patch(FancyBboxPatch((a0, y-7), a1-a0, 14, boxstyle=f"round,pad=0,rounding_size={rr}", fc="#FF0000", ec="#FFC0C0", lw=.5, zorder=3))
for name, x, y in zip(jnet_names, [11, 5, 5], [1443, 1487, 1530]):
    T(x, y, name, size=17.5)

# ---------------------------------------------------------------- panel E
CX, CY, RMAX = 459, 2036, 445
axe = panel(CX-RMAX, CY-RMAX, CX+RMAX, CY+RMAX, projection="polar")
axe.set_ylim(0, RMAX); axe.axis("off"); axe.patch.set_alpha(0)
def rad(d): return np.deg2rad(d)
def angle_of(n): return n[2] if n[0] == "leaf" else n[1]
def draw(node, r_parent, colour=None):
    if node[0] == "leaf":
        _, name, th, r = node
        axe.plot([rad(th)]*2, [r_parent, r], color=colour, lw=1.3, solid_capstyle="round")
        t = (th+180) % 360 - 180
        if -90 <= t <= 90:
            rot, ha = t, "left"
        else:
            rot, ha = (t-180 if t > 0 else t+180), "right"
        axe.text(rad(th), r+2, name, rotation=rot, rotation_mode="anchor", ha=ha, va="center",
                 fontsize=14, family=SANS, color=colour, clip_on=False)
        return
    _, th, r, c, kids = node
    if r_parent is not None:
        axe.plot([rad(th)]*2, [r_parent, r], color=c, lw=1.3 if c != GREY else .9)
    angs = [angle_of(k) for k in kids]
    ts = np.linspace(rad(min(angs)), rad(max(angs)), 80)
    axe.plot(ts, np.full_like(ts, r), color=c, lw=1.3 if c != GREY else .9)
    for k in kids:
        kc = c
        if k[0] == "leaf" and k[1] == "Panda": kc = NAVY
        draw(k, r, kc)
draw(tree_root, None)
axe.plot([rad(89)]*2, [27, 51], color=GREY, lw=.9)
T(462, 2021, "MFGE8", size=17, ha="center")

# ---------------------------------------------------------------- panel F
axf = panel(950, 1580, 1895, 2500); axf.set_xlim(0, 1568); axf.set_ylim(1564, 0); axf.axis("off"); axf.patch.set_alpha(0)
for ex, ey in pca_axes_ends:
    axf.plot([pca_origin[0], ex], [pca_origin[1], ey], color="#111111", lw=1.1)
gcol = {"r":"#EE2A10","t":"#14708F","b":"#2200E0","w":"#B87A4B","g":"#62C96A","n":"#103C55","o":"#FF7A14"}
axf.scatter(pca_x, pca_y, marker="s", s=48, c=[gcol[g] for g in pca_group], lw=0, zorder=3)
for name, lx, ly, g in zip(pca_names, pca_lx, pca_ly, pca_group):
    axf.text(lx, ly, name, color=gcol[g], ha="left", va="center", zorder=4,
             fontsize=10 if g == "r" else 9.7, family=SERIF if g == "r" else OPEN)

fig.savefig("out.png", dpi=100, facecolor="white")
